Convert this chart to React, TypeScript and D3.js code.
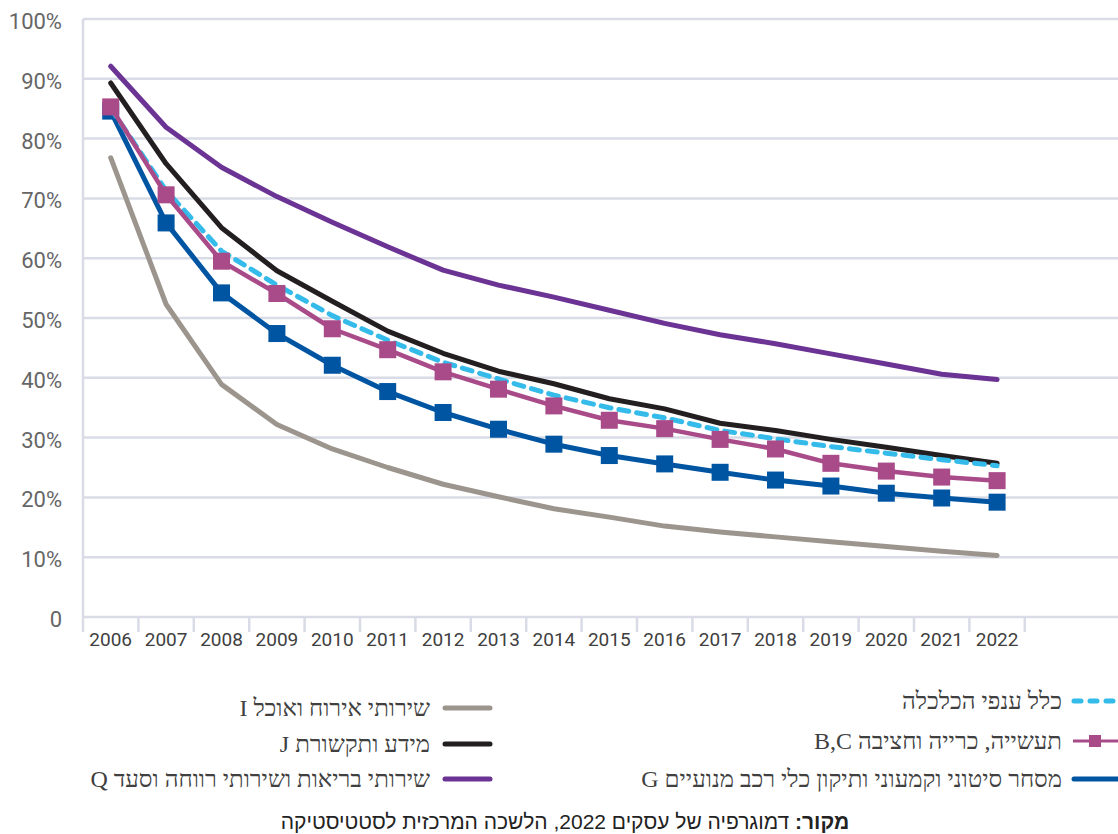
import React, { useRef, useEffect } from 'react';
import * as d3 from 'd3';

// data (share of businesses still active, %)
const years = [2006, 2007, 2008, 2009, 2010, 2011, 2012, 2013, 2014, 2015, 2016, 2017, 2018, 2019, 2020, 2021, 2022];
const foodServices = [76.8, 52.3, 38.9, 32.2, 28.1, 25.0, 22.2, 20.1, 18.1, 16.7, 15.2, 14.2, 13.4, 12.6, 11.8, 11.0, 10.3];
const infoComm = [89.3, 75.8, 65.1, 57.9, 52.8, 47.8, 44.1, 41.1, 39.0, 36.5, 34.8, 32.4, 31.2, 29.7, 28.4, 27.0, 25.7];
const healthWelfare = [92.1, 81.9, 75.2, 70.3, 66.0, 61.9, 58.0, 55.5, 53.5, 51.3, 49.1, 47.2, 45.7, 44.0, 42.3, 40.6, 39.7];
const allBranches = [85.1, 71.3, 61.2, 55.5, 50.4, 46.3, 42.6, 39.8, 37.1, 35.0, 33.3, 31.2, 29.8, 28.5, 27.4, 26.3, 25.3];
const industry = [85.3, 70.6, 59.5, 54.1, 48.2, 44.7, 41.0, 38.1, 35.3, 32.9, 31.5, 29.7, 28.1, 25.7, 24.4, 23.4, 22.8];
const trade = [84.6, 65.9, 54.2, 47.4, 42.1, 37.7, 34.2, 31.4, 28.9, 27.0, 25.6, 24.2, 22.9, 21.9, 20.7, 19.9, 19.2];

const yTicks = [0, 10, 20, 30, 40, 50, 60, 70, 80, 90, 100];

const leftLegend = ['שירותי אירוח ואוכל I', 'מידע ותקשורת J', 'שירותי בריאות ושירותי רווחה וסעד Q'];
const rightLegend = ['כלל ענפי הכלכלה', 'תעשייה, כרייה וחציבה B,C', 'מסחר סיטוני וקמעוני ותיקון כלי רכב מנועיים G'];
const sourceBold = 'מקור:';
const sourceRest = ' דמוגרפיה של עסקים 2022, הלשכה המרכזית לסטטיסטיקה';

const App = () => {
  const svgRef = useRef<SVGSVGElement | null>(null);

  useEffect(() => {
    const width = 1118;
    const height = 834;
    const left = 83;
    const bandW = 55.4;
    const top = 19;
    const bottom = 617;

    const x = d3.scaleBand<number>()
      .domain(years)
      .range([left, left + bandW * years.length])
      .padding(0);
    const cx = (i: number) => (x(years[i]) as number) + x.bandwidth() / 2;

    const y = d3.scaleLinear().domain([0, 100]).range([bottom, top]);

    const svg = d3.select(svgRef.current)
      .attr('width', width)
      .attr('height', height);
    svg.selectAll('*').remove();

    const gridColor = '#d9dce6';

    // grid lines
    svg.append('g')
      .selectAll('line')
      .data(yTicks)
      .enter()
      .append('line')
      .attr('x1', left)
      .attr('x2', width)
      .attr('y1', d => y(d))
      .attr('y2', d => y(d))
      .attr('stroke', gridColor)
      .attr('stroke-width', 2.5);

    // y axis line
    svg.append('line')
      .attr('x1', left).attr('x2', left)
      .attr('y1', top).attr('y2', bottom + 15)
      .attr('stroke', gridColor).attr('stroke-width', 2.5);

    // y labels
    svg.append('g')
      .selectAll('text')
      .data(yTicks)
      .enter()
      .append('text')
      .attr('x', 62)
      .attr('y', d => y(d) + 10)
      .attr('text-anchor', 'end')
      .attr('font-family', 'Roboto')
      .attr('font-size', 22)
      .attr('fill', '#666666')
      .text(d => (d === 0 ? '0' : `${d}%`));

    // x ticks at band edges
    svg.append('g')
      .selectAll('line')
      .data(years)
      .enter()
      .append('line')
      .attr('x1', d => (x(d) as number) + bandW)
      .attr('x2', d => (x(d) as number) + bandW)
      .attr('y1', bottom)
      .attr('y2', bottom + 15)
      .attr('stroke', gridColor)
      .attr('stroke-width', 2.5);

    // x labels
    svg.append('g')
      .selectAll('text')
      .data(years)
      .enter()
      .append('text')
      .attr('x', d => (x(d) as number) + x.bandwidth() / 2)
      .attr('y', 646)
      .attr('text-anchor', 'middle')
      .attr('font-family', 'Roboto')
      .attr('font-size', 19)
      .attr('fill', '#404040')
      .text(d => d);

    const line = d3.line<number>()
      .x((d, i) => cx(i))
      .y(d => y(d));

    const drawLine = (data: number[], color: string, w: number, dash?: string) => {
      const p = svg.append('path')
        .datum(data)
        .attr('fill', 'none')
        .attr('stroke', color)
        .attr('stroke-width', w)
        .attr('stroke-linejoin', 'round')
        .attr('stroke-linecap', 'round')
        .attr('d', line);
      if (dash) p.attr('stroke-dasharray', dash);
    };

    const drawSquares = (data: number[], color: string) => {
      svg.append('g')
        .selectAll('rect')
        .data(data)
        .enter()
        .append('rect')
        .attr('x', (d, i) => cx(i) - 8.5)
        .attr('y', d => y(d) - 8.5)
        .attr('width', 17)
        .attr('height', 17)
        .attr('fill', color);
    };

    const colors = {
      gray: '#9b958d',
      black: '#231f20',
      purple: '#6b3394',
      cyan: '#35bbea',
      magenta: '#a94a89',
      blue: '#0055a2',
    };

    drawLine(healthWelfare, colors.purple, 5);
    drawLine(foodServices, colors.gray, 5);
    drawLine(infoComm, colors.black, 5);
    drawLine(trade, colors.blue, 5);
    drawSquares(trade, colors.blue);
    drawLine(allBranches, colors.cyan, 5, '10 8');
    drawLine(industry, colors.magenta, 4.5);
    drawSquares(industry, colors.magenta);

    // legend
    const legendY = [708, 744, 779];
    const legendFont = "'Liberation Serif', 'DejaVu Serif', serif";

    const leftColors = [colors.gray, colors.black, colors.purple];
    leftLegend.forEach((t, i) => {
      svg.append('line')
        .attr('x1', 445).attr('x2', 490)
        .attr('y1', legendY[i]).attr('y2', legendY[i])
        .attr('stroke', leftColors[i])
        .attr('stroke-width', 5)
        .attr('stroke-linecap', 'round');
      svg.append('text')
        .attr('x', 430)
        .attr('y', legendY[i] + 8)
        .attr('direction', 'rtl')
        .attr('text-anchor', 'start')
        .attr('font-family', legendFont)
        .attr('font-size', 24)
        .attr('fill', '#404040')
        .text(t);
    });

    const rightY = [701, 741, 779];
    // total (dashed)
    svg.append('line')
      .attr('x1', 1074).attr('x2', 1122)
      .attr('y1', rightY[0]).attr('y2', rightY[0])
      .attr('stroke', colors.cyan).attr('stroke-width', 5)
      .attr('stroke-linecap', 'round').attr('stroke-dasharray', '7 9');
    // industry with marker
    svg.append('line')
      .attr('x1', 1073).attr('x2', 1118)
      .attr('y1', rightY[1]).attr('y2', rightY[1])
      .attr('stroke', colors.magenta).attr('stroke-width', 3);
    svg.append('rect')
      .attr('x', 1089).attr('y', rightY[1] - 6)
      .attr('width', 12).attr('height', 12)
      .attr('fill', colors.magenta);
    // trade
    svg.append('line')
      .attr('x1', 1074).attr('x2', 1122)
      .attr('y1', rightY[2]).attr('y2', rightY[2])
      .attr('stroke', colors.blue).attr('stroke-width', 5)
      .attr('stroke-linecap', 'round');

    rightLegend.forEach((t, i) => {
      svg.append('text')
        .attr('x', 1062)
        .attr('y', rightY[i] + 8)
        .attr('direction', 'rtl')
        .attr('text-anchor', 'start')
        .attr('font-family', legendFont)
        .attr('font-size', 24)
        .attr('fill', '#404040')
        .text(t);
    });

    // source
    const src = svg.append('text')
      .attr('x', 565)
      .attr('y', 829)
      .attr('direction', 'rtl')
      .attr('text-anchor', 'middle')
      .attr('font-family', "'Liberation Sans', 'DejaVu Sans', sans-serif")
      .attr('font-size', 21)
      .attr('fill', '#222222');
    src.append('tspan').attr('font-weight', 'bold').text(sourceBold);
    src.append('tspan').text(sourceRest);
  }, []);

  return (
    <div style={{ position: 'absolute', left: 0, top: 0, width: '1118px', height: '834px', background: '#ffffff' }}>
      <svg ref={svgRef} style={{ display: 'block' }}></svg>
    </div>
  );
};

export default App;
